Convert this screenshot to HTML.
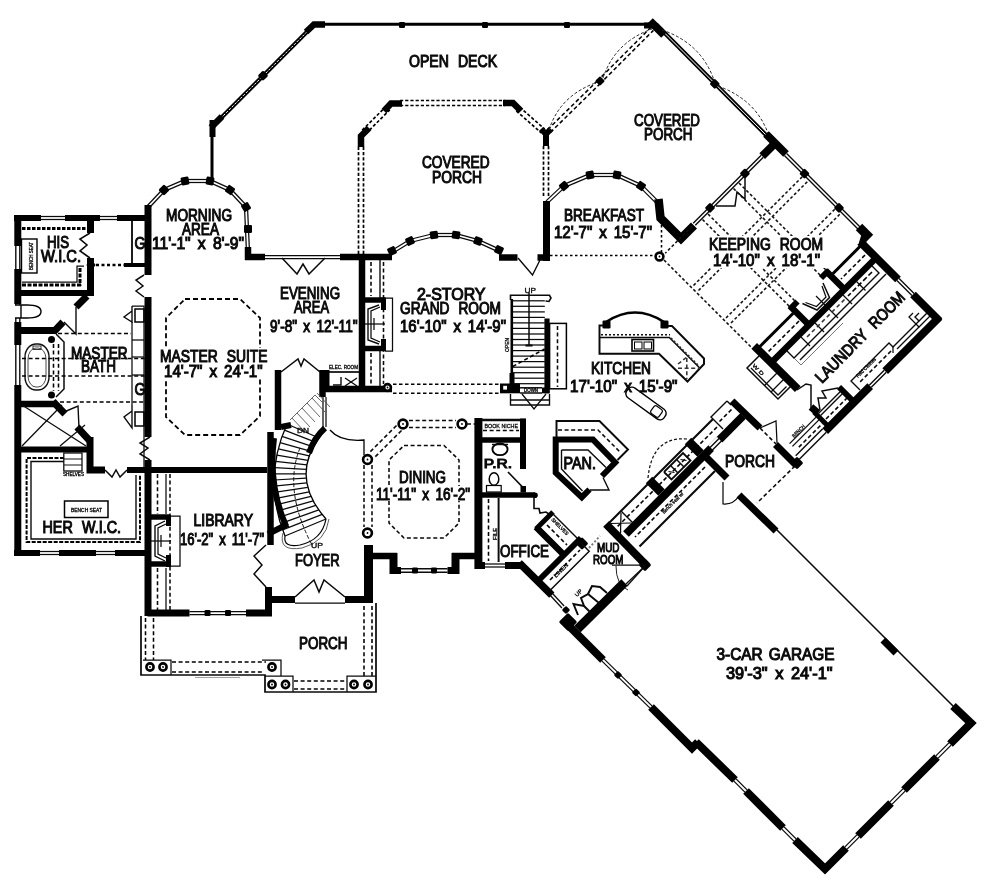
<!DOCTYPE html>
<html><head><meta charset="utf-8"><title>Floor Plan</title>
<style>
html,body{margin:0;padding:0;background:#fff;}
svg{display:block;filter:blur(0.45px)}
text{font-family:"Liberation Sans",sans-serif;fill:#0a0a0a;stroke:#0a0a0a}
</style></head><body>
<svg width="1000" height="894" viewBox="0 0 1000 894">
<rect width="1000" height="894" fill="#fff"/>
<polyline points="212.0,181.0 212.0,127.0 314.5,24.3 656.0,24.3 770.5,139.5" fill="none" stroke="#000" stroke-width="3" stroke-linejoin="miter"/>
<polyline points="212.0,127.0 314.5,24.3" fill="none" stroke="#000" stroke-width="4.2"/>
<polyline points="212.0,127.0 314.5,24.3" fill="none" stroke="#fff" stroke-width="1" stroke-dasharray="2.5,1.5"/>
<polyline points="656.0,24.3 770.5,139.5" fill="none" stroke="#000" stroke-width="4.2"/>
<polyline points="656.0,24.3 770.5,139.5" fill="none" stroke="#fff" stroke-width="1"/>
<rect x="259.2" y="72.0" width="7.5" height="7.5" rx="1.3" fill="#000" transform="rotate(45 263.0 75.8)"/>
<rect x="399.0" y="22.0" width="6" height="6" rx="1.3" fill="#000" transform="rotate(0 402.0 25.0)"/>
<rect x="482.0" y="22.0" width="6" height="6" rx="1.3" fill="#000" transform="rotate(0 485.0 25.0)"/>
<rect x="564.0" y="22.0" width="6" height="6" rx="1.3" fill="#000" transform="rotate(0 567.0 25.0)"/>
<rect x="711.0" y="80.0" width="7.5" height="7.5" rx="1.3" fill="#000" transform="rotate(45 714.7 83.8)"/>
<polyline points="212.5,120.0 212.5,137.0" fill="none" stroke="#000" stroke-width="6" stroke-linecap="butt" stroke-linejoin="miter"/>
<polyline points="211.0,127.5 222.0,116.5" fill="none" stroke="#000" stroke-width="6.5" stroke-linecap="butt" stroke-linejoin="miter"/>
<polyline points="306.0,32.0 314.0,24.5 325.0,24.5" fill="none" stroke="#000" stroke-width="6.5" stroke-linecap="butt" stroke-linejoin="miter"/>
<polyline points="644.0,25.5 656.0,25.5" fill="none" stroke="#000" stroke-width="6" stroke-linecap="butt" stroke-linejoin="miter"/>
<polyline points="650.0,21.0 664.0,35.0" fill="none" stroke="#000" stroke-width="8" stroke-linecap="butt" stroke-linejoin="miter"/>
<polyline points="358.5,254.0 358.5,146.0" fill="none" stroke="#000" stroke-width="1.7" stroke-dasharray="3.2,2"/>
<polyline points="363.5,254.0 363.5,146.0" fill="none" stroke="#000" stroke-width="1.7" stroke-dasharray="3.2,2"/>
<polyline points="362.2,130.2 386.2,106.2" fill="none" stroke="#000" stroke-width="1.7" stroke-dasharray="3.2,2"/>
<polyline points="365.8,133.8 389.8,109.8" fill="none" stroke="#000" stroke-width="1.7" stroke-dasharray="3.2,2"/>
<polyline points="400.0,100.5 505.0,100.5" fill="none" stroke="#000" stroke-width="1.7" stroke-dasharray="3.2,2"/>
<polyline points="400.0,105.5 505.0,105.5" fill="none" stroke="#000" stroke-width="1.7" stroke-dasharray="3.2,2"/>
<polyline points="519.7,107.1 544.7,129.1" fill="none" stroke="#000" stroke-width="1.7" stroke-dasharray="3.2,2"/>
<polyline points="516.3,110.9 541.3,132.9" fill="none" stroke="#000" stroke-width="1.7" stroke-dasharray="3.2,2"/>
<polyline points="548.5,146.0 548.5,198.0" fill="none" stroke="#000" stroke-width="1.7" stroke-dasharray="3.2,2"/>
<polyline points="543.5,146.0 543.5,198.0" fill="none" stroke="#000" stroke-width="1.7" stroke-dasharray="3.2,2"/>
<polyline points="361.0,147.0 361.0,136.0 369.0,128.0" fill="none" stroke="#000" stroke-width="6.5" stroke-linecap="butt" stroke-linejoin="miter"/>
<polyline points="384.0,111.0 391.0,103.5 402.0,103.5" fill="none" stroke="#000" stroke-width="6.5" stroke-linecap="butt" stroke-linejoin="miter"/>
<polyline points="503.0,103.0 513.0,103.0 521.0,111.0" fill="none" stroke="#000" stroke-width="6.5" stroke-linecap="butt" stroke-linejoin="miter"/>
<polyline points="546.0,146.0 546.0,134.0" fill="none" stroke="#000" stroke-width="6" stroke-linecap="butt" stroke-linejoin="miter"/>
<polyline points="541.0,129.0 546.0,134.0 551.0,129.0" fill="none" stroke="#000" stroke-width="6" stroke-linecap="butt" stroke-linejoin="miter"/>
<polyline points="547.6,129.6 596.6,81.6" fill="none" stroke="#000" stroke-width="1.55" stroke-dasharray="4,2.6"/>
<polyline points="550.4,132.4 599.4,84.4" fill="none" stroke="#000" stroke-width="1.55" stroke-dasharray="4,2.6"/>
<polyline points="601.6,76.6 650.6,27.6" fill="none" stroke="#000" stroke-width="1.55" stroke-dasharray="4,2.6"/>
<polyline points="604.4,79.4 653.4,30.4" fill="none" stroke="#000" stroke-width="1.55" stroke-dasharray="4,2.6"/>
<path d="M549,130 Q560,95 598,82" fill="none" stroke="#222" stroke-width="1" stroke-dasharray="3,2"/>
<path d="M603,78 Q615,42 652,29" fill="none" stroke="#222" stroke-width="1" stroke-dasharray="3,2"/>
<rect x="596.5" y="77.5" width="7" height="7" rx="1.3" fill="#000" transform="rotate(45 600.0 81.0)"/>
<path d="M662,30 Q701,43 714,80" fill="none" stroke="#222" stroke-width="1" stroke-dasharray="3,2"/>
<path d="M718,86 Q757,100 769,136" fill="none" stroke="#222" stroke-width="1" stroke-dasharray="3,2"/>
<text x="409.0" y="67.0" font-size="16" stroke-width="1.05" textLength="88.0" lengthAdjust="spacingAndGlyphs" word-spacing="6">OPEN DECK</text>
<text x="422.0" y="167.5" font-size="16" stroke-width="1.05" textLength="67.5" lengthAdjust="spacingAndGlyphs">COVERED</text>
<text x="432.0" y="182.5" font-size="16" stroke-width="1.05" textLength="50.0" lengthAdjust="spacingAndGlyphs">PORCH</text>
<text x="634.0" y="125.5" font-size="16" stroke-width="1.05" textLength="66.0" lengthAdjust="spacingAndGlyphs">COVERED</text>
<text x="644.0" y="140.0" font-size="16" stroke-width="1.05" textLength="48.5" lengthAdjust="spacingAndGlyphs">PORCH</text>
<polyline points="146.9,206.0 162.9,189.0" fill="none" stroke="#0a0a0a" stroke-width="1.25"/>
<polyline points="149.1,208.0 165.1,191.0" fill="none" stroke="#0a0a0a" stroke-width="1.25"/>
<polyline points="163.4,188.6 184.4,179.6" fill="none" stroke="#0a0a0a" stroke-width="1.25"/>
<polyline points="164.6,191.4 185.6,182.4" fill="none" stroke="#0a0a0a" stroke-width="1.25"/>
<polyline points="185.0,179.5 210.0,179.5" fill="none" stroke="#0a0a0a" stroke-width="1.25"/>
<polyline points="185.0,182.5 210.0,182.5" fill="none" stroke="#0a0a0a" stroke-width="1.25"/>
<polyline points="210.6,179.6 230.6,188.6" fill="none" stroke="#0a0a0a" stroke-width="1.25"/>
<polyline points="209.4,182.4 229.4,191.4" fill="none" stroke="#0a0a0a" stroke-width="1.25"/>
<polyline points="231.1,189.0 247.1,206.0" fill="none" stroke="#0a0a0a" stroke-width="1.25"/>
<polyline points="228.9,191.0 244.9,208.0" fill="none" stroke="#0a0a0a" stroke-width="1.25"/>
<polyline points="247.5,206.9 249.5,251.9" fill="none" stroke="#0a0a0a" stroke-width="1.25"/>
<polyline points="244.5,207.1 246.5,252.1" fill="none" stroke="#0a0a0a" stroke-width="1.25"/>
<rect x="160.0" y="186.0" width="8" height="8" rx="1.3" fill="#000" transform="rotate(-45 164.0 190.0)"/>
<rect x="181.0" y="177.0" width="8" height="8" rx="1.3" fill="#000" transform="rotate(-10 185.0 181.0)"/>
<rect x="206.0" y="177.0" width="8" height="8" rx="1.3" fill="#000" transform="rotate(10 210.0 181.0)"/>
<rect x="226.0" y="186.0" width="8" height="8" rx="1.3" fill="#000" transform="rotate(35 230.0 190.0)"/>
<rect x="242.0" y="203.0" width="8" height="8" rx="1.3" fill="#000" transform="rotate(60 246.0 207.0)"/>
<rect x="244.0" y="225.0" width="8" height="8" rx="1.3" fill="#000" transform="rotate(0 248.0 229.0)"/>
<text x="166.0" y="221.0" font-size="16" stroke-width="1.05" textLength="66.0" lengthAdjust="spacingAndGlyphs">MORNING</text>
<text x="182.0" y="234.5" font-size="16" stroke-width="1.05" textLength="37.0" lengthAdjust="spacingAndGlyphs">AREA</text>
<text x="152.0" y="249.0" font-size="16" stroke-width="1.05" textLength="92.0" lengthAdjust="spacingAndGlyphs" word-spacing="3">11'-1" x 8'-9"</text>
<polyline points="391.2,250.7 409.2,239.7" fill="none" stroke="#0a0a0a" stroke-width="1.25"/>
<polyline points="392.8,253.3 410.8,242.3" fill="none" stroke="#0a0a0a" stroke-width="1.25"/>
<polyline points="409.6,239.5 433.6,233.5" fill="none" stroke="#0a0a0a" stroke-width="1.25"/>
<polyline points="410.4,242.5 434.4,236.5" fill="none" stroke="#0a0a0a" stroke-width="1.25"/>
<polyline points="434.0,233.5 456.0,233.5" fill="none" stroke="#0a0a0a" stroke-width="1.25"/>
<polyline points="434.0,236.5 456.0,236.5" fill="none" stroke="#0a0a0a" stroke-width="1.25"/>
<polyline points="456.4,233.6 478.4,239.6" fill="none" stroke="#0a0a0a" stroke-width="1.25"/>
<polyline points="455.6,236.4 477.6,242.4" fill="none" stroke="#0a0a0a" stroke-width="1.25"/>
<polyline points="478.6,239.6 500.6,249.6" fill="none" stroke="#0a0a0a" stroke-width="1.25"/>
<polyline points="477.4,242.4 499.4,252.4" fill="none" stroke="#0a0a0a" stroke-width="1.25"/>
<rect x="388.0" y="247.0" width="8" height="8" rx="1.3" fill="#000" transform="rotate(-25 392.0 251.0)"/>
<rect x="406.0" y="237.0" width="8" height="8" rx="1.3" fill="#000" transform="rotate(-25 410.0 241.0)"/>
<rect x="430.0" y="231.0" width="8" height="8" rx="1.3" fill="#000" transform="rotate(-8 434.0 235.0)"/>
<rect x="452.0" y="231.0" width="8" height="8" rx="1.3" fill="#000" transform="rotate(8 456.0 235.0)"/>
<rect x="474.0" y="237.0" width="8" height="8" rx="1.3" fill="#000" transform="rotate(20 478.0 241.0)"/>
<rect x="495.0" y="246.0" width="8" height="8" rx="1.3" fill="#000" transform="rotate(25 499.0 250.0)"/>
<polyline points="546.0,200.9 563.0,184.9" fill="none" stroke="#0a0a0a" stroke-width="1.25"/>
<polyline points="548.0,203.1 565.0,187.1" fill="none" stroke="#0a0a0a" stroke-width="1.25"/>
<polyline points="563.4,184.6 589.4,173.6" fill="none" stroke="#0a0a0a" stroke-width="1.25"/>
<polyline points="564.6,187.4 590.6,176.4" fill="none" stroke="#0a0a0a" stroke-width="1.25"/>
<polyline points="590.0,173.5 617.0,173.5" fill="none" stroke="#0a0a0a" stroke-width="1.25"/>
<polyline points="590.0,176.5 617.0,176.5" fill="none" stroke="#0a0a0a" stroke-width="1.25"/>
<polyline points="617.6,173.6 641.6,184.6" fill="none" stroke="#0a0a0a" stroke-width="1.25"/>
<polyline points="616.4,176.4 640.4,187.4" fill="none" stroke="#0a0a0a" stroke-width="1.25"/>
<polyline points="642.1,184.9 659.1,201.9" fill="none" stroke="#0a0a0a" stroke-width="1.25"/>
<polyline points="639.9,187.1 656.9,204.1" fill="none" stroke="#0a0a0a" stroke-width="1.25"/>
<rect x="560.0" y="182.0" width="8" height="8" rx="1.3" fill="#000" transform="rotate(-40 564.0 186.0)"/>
<rect x="586.0" y="171.0" width="8" height="8" rx="1.3" fill="#000" transform="rotate(-10 590.0 175.0)"/>
<rect x="613.0" y="171.0" width="8" height="8" rx="1.3" fill="#000" transform="rotate(10 617.0 175.0)"/>
<rect x="637.0" y="182.0" width="8" height="8" rx="1.3" fill="#000" transform="rotate(35 641.0 186.0)"/>
<polyline points="17.8,218.0 17.8,553.0" fill="none" stroke="#000" stroke-width="7" stroke-linecap="butt" stroke-linejoin="miter"/>
<polyline points="14.0,218.0 41.0,218.0" fill="none" stroke="#000" stroke-width="6" stroke-linecap="butt" stroke-linejoin="miter"/>
<polyline points="41.0,216.5 65.0,216.5" fill="none" stroke="#0a0a0a" stroke-width="1.25"/>
<polyline points="41.0,219.5 65.0,219.5" fill="none" stroke="#0a0a0a" stroke-width="1.25"/>
<polyline points="65.0,218.0 100.0,218.0" fill="none" stroke="#000" stroke-width="6" stroke-linecap="butt" stroke-linejoin="miter"/>
<polyline points="100.0,216.5 117.0,216.5" fill="none" stroke="#0a0a0a" stroke-width="1.25"/>
<polyline points="100.0,219.5 117.0,219.5" fill="none" stroke="#0a0a0a" stroke-width="1.25"/>
<polyline points="117.0,218.0 151.0,218.0" fill="none" stroke="#000" stroke-width="6" stroke-linecap="butt" stroke-linejoin="miter"/>
<rect x="13.0" y="246.0" width="9.0" height="23.0" fill="#fff" stroke="none" stroke-width="1"/>
<polyline points="19.8,246.0 19.8,269.0" fill="none" stroke="#0a0a0a" stroke-width="1.38"/>
<polyline points="15.8,246.0 15.8,269.0" fill="none" stroke="#0a0a0a" stroke-width="1.38"/>
<rect x="13.0" y="304.0" width="9.0" height="18.0" fill="#fff" stroke="none" stroke-width="1"/>
<polyline points="19.8,304.0 19.8,322.0" fill="none" stroke="#0a0a0a" stroke-width="1.38"/>
<polyline points="15.8,304.0 15.8,322.0" fill="none" stroke="#0a0a0a" stroke-width="1.38"/>
<rect x="13.0" y="345.0" width="9.0" height="40.0" fill="#fff" stroke="none" stroke-width="1"/>
<polyline points="19.8,345.0 19.8,385.0" fill="none" stroke="#0a0a0a" stroke-width="1.38"/>
<polyline points="15.8,345.0 15.8,385.0" fill="none" stroke="#0a0a0a" stroke-width="1.38"/>
<polyline points="14.0,553.0 40.0,553.0" fill="none" stroke="#000" stroke-width="6" stroke-linecap="butt" stroke-linejoin="miter"/>
<polyline points="40.0,551.5 59.0,551.5" fill="none" stroke="#0a0a0a" stroke-width="1.25"/>
<polyline points="40.0,554.5 59.0,554.5" fill="none" stroke="#0a0a0a" stroke-width="1.25"/>
<polyline points="59.0,553.0 96.0,553.0" fill="none" stroke="#000" stroke-width="6" stroke-linecap="butt" stroke-linejoin="miter"/>
<polyline points="96.0,551.5 115.0,551.5" fill="none" stroke="#0a0a0a" stroke-width="1.25"/>
<polyline points="96.0,554.5 115.0,554.5" fill="none" stroke="#0a0a0a" stroke-width="1.25"/>
<polyline points="115.0,553.0 148.0,553.0" fill="none" stroke="#000" stroke-width="6" stroke-linecap="butt" stroke-linejoin="miter"/>
<polyline points="148.0,205.0 148.0,275.0" fill="none" stroke="#000" stroke-width="7" stroke-linecap="butt" stroke-linejoin="miter"/>
<polyline points="148.0,297.0 148.0,437.0" fill="none" stroke="#000" stroke-width="7" stroke-linecap="butt" stroke-linejoin="miter"/>
<polyline points="148.0,460.0 148.0,616.0" fill="none" stroke="#000" stroke-width="7" stroke-linecap="butt" stroke-linejoin="miter"/>
<polyline points="90.5,215.0 90.5,233.0" fill="none" stroke="#000" stroke-width="7" stroke-linecap="butt" stroke-linejoin="miter"/>
<polyline points="90.5,258.0 90.5,296.0" fill="none" stroke="#000" stroke-width="7" stroke-linecap="butt" stroke-linejoin="miter"/>
<polyline points="20.0,293.0 94.0,293.0" fill="none" stroke="#000" stroke-width="6" stroke-linecap="butt" stroke-linejoin="miter"/>
<polyline points="90.0,233.0 80.0,239.0 87.0,245.0 80.0,251.0 90.0,258.0" fill="none" stroke="#0a0a0a" stroke-width="1.61"/>
<polyline points="22.0,228.5 86.0,228.5" fill="none" stroke="#000" stroke-width="3.2" stroke-dasharray="3.5,1.5"/>
<polyline points="22.0,285.0 82.0,285.0" fill="none" stroke="#000" stroke-width="3" stroke-dasharray="4,1.5"/>
<polyline points="80.0,268.0 80.0,286.0" fill="none" stroke="#000" stroke-width="3" stroke-dasharray="4,1.5"/>
<polyline points="22.0,282.0 77.0,282.0 77.0,266.0 84.0,266.0" fill="none" stroke="#0a0a0a" stroke-width="1.25"/>
<rect x="21.5" y="239.0" width="15.5" height="34.0" fill="none" stroke="#000" stroke-width="1.4"/>
<text x="0.0" y="0.0" font-size="5" stroke-width="0.3" textLength="28.0" lengthAdjust="spacingAndGlyphs" transform="translate(33,270) rotate(-90)">BENCH SEAT</text>
<polyline points="132.0,221.0 132.0,265.0" fill="none" stroke="#0a0a0a" stroke-width="1.84"/>
<polyline points="124.0,265.0 145.0,265.0" fill="none" stroke="#000" stroke-width="4" stroke-linecap="butt" stroke-linejoin="miter"/>
<polyline points="96.0,265.0 124.0,265.0" fill="none" stroke="#000" stroke-width="2.6" stroke-dasharray="3,2.5"/>
<rect x="87.5" y="261.5" width="7" height="7" rx="1.3" fill="#000" transform="rotate(45 91.0 265.0)"/>
<text x="134.5" y="249.0" font-size="16" stroke-width="1.05" textLength="11.0" lengthAdjust="spacingAndGlyphs">G</text>
<polyline points="20.0,330.5 55.0,330.5 63.0,322.0" fill="none" stroke="#000" stroke-width="7" stroke-linecap="butt" stroke-linejoin="miter"/>
<polyline points="87.0,296.0 76.0,307.0" fill="none" stroke="#000" stroke-width="7" stroke-linecap="butt" stroke-linejoin="miter"/>
<polyline points="76.0,307.0 76.0,334.0 64.0,322.0" fill="none" stroke="#0a0a0a" stroke-width="1.38"/>
<path d="M15,318 h6 v-13 h-6 M21,305 h6 q14,0 14,6.5 q0,6.5 -14,6.5 h-6" fill="#fff" stroke="#000" stroke-width="1.4" />
<rect x="25" y="344" width="24" height="46" rx="11" ry="13" fill="none" stroke="#111" stroke-width="1.4"/>
<rect x="28" y="348" width="18" height="39" rx="8" ry="11" fill="none" stroke="#333" stroke-width="0.9"/>
<rect x="33.0" y="346.0" width="8.0" height="3.5" fill="none" stroke="#222" stroke-width="0.9"/>
<polyline points="56.0,334.0 64.0,342.0 64.0,389.0 56.0,397.0" fill="none" stroke="#0a0a0a" stroke-width="1.49"/>
<circle cx="51.5" cy="339.5" r="3.5" fill="#000"/><circle cx="51.5" cy="395" r="3.5" fill="#000"/>
<polyline points="58.0,333.5 131.0,333.5" fill="none" stroke="#000" stroke-width="1.55" stroke-dasharray="4,2.6"/>
<polyline points="60.0,402.0 147.0,402.0" fill="none" stroke="#000" stroke-width="1.55" stroke-dasharray="4,2.6"/>
<polyline points="22.0,358.5 147.0,358.5" fill="none" stroke="#000" stroke-width="1.55" stroke-dasharray="4,2.6"/>
<polyline points="22.0,376.0 147.0,376.0" fill="none" stroke="#000" stroke-width="1.55" stroke-dasharray="4,2.6"/>
<polyline points="53.5,344.0 53.5,391.0" fill="none" stroke="#000" stroke-width="1.55" stroke-dasharray="4,2.6"/>
<polyline points="58.5,344.0 58.5,391.0" fill="none" stroke="#000" stroke-width="1.55" stroke-dasharray="4,2.6"/>
<polyline points="132.0,306.0 144.0,306.0 144.0,470.0" fill="none" stroke="#0a0a0a" stroke-width="1.25"/>
<polyline points="132.0,306.0 132.0,322.0 124.0,317.0 132.0,311.0" fill="none" stroke="#0a0a0a" stroke-width="1.38"/>
<rect x="135.0" y="309.0" width="9.0" height="13.0" fill="none" stroke="#000" stroke-width="1.5"/>
<polyline points="132.0,322.0 132.0,405.0" fill="none" stroke="#0a0a0a" stroke-width="1.25"/>
<polyline points="132.0,340.0 144.0,340.0" fill="none" stroke="#0a0a0a" stroke-width="1.25"/>
<polyline points="132.0,357.0 144.0,357.0" fill="none" stroke="#0a0a0a" stroke-width="1.25"/>
<polyline points="132.0,375.0 144.0,375.0" fill="none" stroke="#0a0a0a" stroke-width="1.25"/>
<text x="134.5" y="395.0" font-size="16" stroke-width="1.05" textLength="11.0" lengthAdjust="spacingAndGlyphs">G</text>
<rect x="135.0" y="412.0" width="9.0" height="14.0" fill="none" stroke="#000" stroke-width="1.5"/>
<polyline points="132.0,405.0 132.0,428.0 124.0,417.0 132.0,411.0" fill="none" stroke="#0a0a0a" stroke-width="1.38"/>
<polyline points="20.0,404.0 56.0,404.0" fill="none" stroke="#000" stroke-width="6.5" stroke-linecap="butt" stroke-linejoin="miter"/>
<polyline points="53.0,401.5 65.0,414.0" fill="none" stroke="#000" stroke-width="7" stroke-linecap="butt" stroke-linejoin="miter"/>
<polyline points="77.0,427.0 90.0,441.0" fill="none" stroke="#000" stroke-width="7" stroke-linecap="butt" stroke-linejoin="miter"/>
<polyline points="64.0,412.0 78.0,406.0 79.0,428.0" fill="none" stroke="#0a0a0a" stroke-width="1.38"/>
<polyline points="20.0,449.5 90.0,449.5" fill="none" stroke="#000" stroke-width="6" stroke-linecap="butt" stroke-linejoin="miter"/>
<polyline points="22.0,405.0 86.0,446.0" fill="none" stroke="#0a0a0a" stroke-width="1.25"/>
<polyline points="22.0,446.0 62.0,405.0" fill="none" stroke="#0a0a0a" stroke-width="1.25"/>
<polyline points="60.0,446.0 85.0,425.0" fill="none" stroke="#0a0a0a" stroke-width="1.25"/>
<polyline points="90.0,437.0 90.0,470.0 105.0,470.0" fill="none" stroke="#000" stroke-width="7" stroke-linecap="butt" stroke-linejoin="miter"/>
<polyline points="127.0,470.0 267.0,470.0" fill="none" stroke="#000" stroke-width="6" stroke-linecap="butt" stroke-linejoin="miter"/>
<polyline points="105.0,470.0 112.0,477.0 116.0,470.0 120.0,477.0 127.0,470.0" fill="none" stroke="#0a0a0a" stroke-width="1.49"/>
<polyline points="150.0,437.0 140.0,443.0 148.0,448.0 140.0,454.0 150.0,460.0" fill="none" stroke="#0a0a0a" stroke-width="1.49"/>
<polyline points="144.0,275.0 136.0,280.0 143.0,286.0 136.0,291.0 144.0,297.0" fill="none" stroke="#0a0a0a" stroke-width="1.49"/>
<polyline points="64.0,458.0 26.6,458.0 26.6,542.0 140.0,542.0 140.0,475.0" fill="none" stroke="#000" stroke-width="2" stroke-dasharray="4,1.5"/>
<polyline points="64.0,461.5 31.0,461.5 31.0,539.0 136.0,539.0 136.0,475.0" fill="none" stroke="#0a0a0a" stroke-width="1.38"/>
<rect x="64.5" y="501.0" width="43.5" height="16.5" fill="none" stroke="#000" stroke-width="1.5"/>
<text x="71.0" y="512.0" font-size="5" stroke-width="0.3" textLength="31.0" lengthAdjust="spacingAndGlyphs">BENCH SEAT</text>
<rect x="63.8" y="453.0" width="18.2" height="18.0" fill="none" stroke="#111" stroke-width="1.3"/>
<polyline points="64.0,459.0 82.0,459.0" fill="none" stroke="#111" stroke-width="1.00"/>
<polyline points="64.0,465.0 82.0,465.0" fill="none" stroke="#111" stroke-width="1.00"/>
<text x="63.0" y="476.0" font-size="4.5" stroke-width="0.3" textLength="21.0" lengthAdjust="spacingAndGlyphs">SHELVES</text>
<text x="47.0" y="247.5" font-size="16" stroke-width="1.05" textLength="22.0" lengthAdjust="spacingAndGlyphs">HIS</text>
<text x="41.0" y="261.5" font-size="16" stroke-width="1.05" textLength="40.0" lengthAdjust="spacingAndGlyphs">W.I.C.</text>
<text x="71.0" y="359.0" font-size="16" stroke-width="1.05" textLength="56.5" lengthAdjust="spacingAndGlyphs">MASTER</text>
<text x="81.0" y="371.5" font-size="16" stroke-width="1.05" textLength="35.0" lengthAdjust="spacingAndGlyphs">BATH</text>
<text x="42.5" y="533.0" font-size="16" stroke-width="1.05" textLength="78.5" lengthAdjust="spacingAndGlyphs" word-spacing="6">HER W.I.C.</text>
<polyline points="185.0,299.0 240.0,299.0 260.0,318.0 260.0,416.0 240.0,435.0 185.0,435.0 166.0,417.0 166.0,318.0 185.0,299.0" fill="none" stroke="#000" stroke-width="1.8" stroke-dasharray="5,3"/>
<rect x="157.0" y="348.0" width="113.0" height="31.0" fill="#fff" stroke="none" stroke-width="1"/>
<text x="160.0" y="361.5" font-size="16" stroke-width="1.05" textLength="107.5" lengthAdjust="spacingAndGlyphs" word-spacing="6">MASTER SUITE</text>
<text x="164.0" y="376.5" font-size="16" stroke-width="1.05" textLength="98.5" lengthAdjust="spacingAndGlyphs" word-spacing="3">14'-7" x 24'-1"</text>
<polyline points="245.0,257.0 265.0,257.0" fill="none" stroke="#000" stroke-width="6.5" stroke-linecap="butt" stroke-linejoin="miter"/>
<polyline points="248.0,247.0 248.0,260.0" fill="none" stroke="#000" stroke-width="6.5" stroke-linecap="butt" stroke-linejoin="miter"/>
<polyline points="265.0,255.5 340.0,255.5" fill="none" stroke="#0a0a0a" stroke-width="1.25"/>
<polyline points="265.0,258.5 340.0,258.5" fill="none" stroke="#0a0a0a" stroke-width="1.25"/>
<polyline points="340.0,257.0 392.0,257.0" fill="none" stroke="#000" stroke-width="6.5" stroke-linecap="butt" stroke-linejoin="miter"/>
<polyline points="282.0,258.0 297.0,274.0 303.0,264.0 309.0,274.0 325.0,258.0" fill="none" stroke="#0a0a0a" stroke-width="1.49"/>
<polyline points="362.0,254.0 362.0,392.0" fill="none" stroke="#000" stroke-width="6.5" stroke-linecap="butt" stroke-linejoin="miter"/>
<polyline points="326.0,389.0 392.0,389.0" fill="none" stroke="#000" stroke-width="6.5" stroke-linecap="butt" stroke-linejoin="miter"/>
<polyline points="380.0,260.0 380.0,298.0" fill="none" stroke="#0a0a0a" stroke-width="1.38"/>
<polyline points="380.0,351.0 380.0,386.0" fill="none" stroke="#0a0a0a" stroke-width="1.38"/>
<polyline points="371.0,262.0 371.0,296.0" fill="none" stroke="#000" stroke-width="1.55" stroke-dasharray="4,2.6"/>
<polyline points="371.0,353.0 371.0,384.0" fill="none" stroke="#000" stroke-width="1.55" stroke-dasharray="4,2.6"/>
<polyline points="383.5,262.0 383.5,384.0" fill="none" stroke="#0a0a0a" stroke-width="1.55" stroke-dasharray="4,2.6"/>
<polyline points="365.0,300.0 385.0,300.0" fill="none" stroke="#000" stroke-width="5.5" stroke-linecap="butt" stroke-linejoin="miter"/>
<polyline points="365.0,348.5 385.0,348.5" fill="none" stroke="#000" stroke-width="5.5" stroke-linecap="butt" stroke-linejoin="miter"/>
<rect x="381.0" y="297.5" width="5.0" height="12.5" fill="#000" stroke="none" stroke-width="1"/>
<rect x="381.0" y="339.0" width="5.0" height="12.0" fill="#000" stroke="none" stroke-width="1"/>
<polyline points="385.0,298.0 392.5,298.0 392.5,351.0 385.0,351.0" fill="none" stroke="#0a0a0a" stroke-width="1.25"/>
<polyline points="379.0,305.0 368.0,309.0 368.0,340.0 379.0,344.0" fill="none" stroke="#0a0a0a" stroke-width="1.38"/>
<polyline points="380.0,307.0 371.0,311.0 371.0,338.0 380.0,342.0" fill="none" stroke="#0a0a0a" stroke-width="1.25"/>
<polyline points="365.0,324.0 385.0,324.0" fill="none" stroke="#0a0a0a" stroke-width="1.25"/>
<polyline points="374.0,318.0 374.0,330.0" fill="none" stroke="#0a0a0a" stroke-width="1.25"/>
<circle cx="387.5" cy="387.5" r="3.4" fill="#fff" stroke="#000" stroke-width="2.6"/><circle cx="387.5" cy="387.5" r="0.9" fill="#000"/>
<polyline points="393.0,384.2 500.0,384.2" fill="none" stroke="#000" stroke-width="1.55" stroke-dasharray="3.5,2.5"/>
<polyline points="393.0,393.2 500.0,393.2" fill="none" stroke="#000" stroke-width="1.55" stroke-dasharray="3.5,2.5"/>
<polyline points="326.5,370.0 326.5,392.0" fill="none" stroke="#000" stroke-width="6" stroke-linecap="butt" stroke-linejoin="miter"/>
<polyline points="329.0,372.0 359.0,372.0" fill="none" stroke="#0a0a0a" stroke-width="1.72"/>
<polyline points="345.0,378.0 357.0,386.0" fill="none" stroke="#0a0a0a" stroke-width="1.25"/>
<polyline points="345.0,386.0 357.0,378.0" fill="none" stroke="#0a0a0a" stroke-width="1.25"/>
<polyline points="333.0,385.0 341.0,385.0 341.0,377.0" fill="none" stroke="#0a0a0a" stroke-width="1.38"/>
<text x="329.0" y="369.0" font-size="5" stroke-width="0.3" textLength="29.0" lengthAdjust="spacingAndGlyphs">ELEC. ROOM</text>
<polyline points="278.0,370.0 278.0,430.0" fill="none" stroke="#000" stroke-width="6.5" stroke-linecap="butt" stroke-linejoin="miter"/>
<polyline points="322.5,370.0 322.5,397.0" fill="none" stroke="#000" stroke-width="6.5" stroke-linecap="butt" stroke-linejoin="miter"/>
<polyline points="281.0,372.0 298.0,359.0 301.0,366.0 304.0,359.0 320.0,372.0" fill="none" stroke="#0a0a0a" stroke-width="1.49"/>
<polyline points="326.0,397.0 326.0,427.0" fill="none" stroke="#0a0a0a" stroke-width="1.25"/>
<polyline points="323.0,397.0 323.0,427.0" fill="none" stroke="#0a0a0a" stroke-width="1.25"/>
<text x="280.0" y="299.0" font-size="16" stroke-width="1.05" textLength="60.0" lengthAdjust="spacingAndGlyphs">EVENING</text>
<text x="294.0" y="313.0" font-size="16" stroke-width="1.05" textLength="35.0" lengthAdjust="spacingAndGlyphs">AREA</text>
<text x="270.0" y="331.5" font-size="16" stroke-width="1.05" textLength="87.5" lengthAdjust="spacingAndGlyphs" word-spacing="3">9'-8" x 12'-11"</text>
<text x="417.0" y="299.5" font-size="16" stroke-width="1.05" textLength="68.5" lengthAdjust="spacingAndGlyphs">2-STORY</text>
<text x="400.0" y="314.0" font-size="16" stroke-width="1.05" textLength="101.0" lengthAdjust="spacingAndGlyphs" word-spacing="6">GRAND ROOM</text>
<text x="400.0" y="331.5" font-size="16" stroke-width="1.05" textLength="106.0" lengthAdjust="spacingAndGlyphs" word-spacing="3">16'-10" x 14'-9"</text>
<polyline points="499.0,257.5 517.5,257.5" fill="none" stroke="#000" stroke-width="6.5" stroke-linecap="butt" stroke-linejoin="miter"/>
<polyline points="537.5,257.5 550.0,257.5" fill="none" stroke="#000" stroke-width="6.5" stroke-linecap="butt" stroke-linejoin="miter"/>
<polyline points="518.0,258.0 532.5,275.0 540.0,260.0" fill="none" stroke="#0a0a0a" stroke-width="1.38"/>
<polyline points="546.5,201.0 546.5,261.0" fill="none" stroke="#000" stroke-width="7" stroke-linecap="butt" stroke-linejoin="miter"/>
<polyline points="658.5,199.0 660.5,218.0 681.0,238.5 694.0,225.5" fill="none" stroke="#000" stroke-width="8.5" stroke-linecap="butt" stroke-linejoin="miter"/>
<polyline points="550.0,255.5 655.0,255.5" fill="none" stroke="#000" stroke-width="1.55" stroke-dasharray="2.5,2.5"/>
<polyline points="661.5,220.0 661.5,252.0" fill="none" stroke="#000" stroke-width="1.55" stroke-dasharray="2.5,2.5"/>
<circle cx="659.5" cy="256.5" r="3.9" fill="#fff" stroke="#000" stroke-width="2.6"/><circle cx="659.5" cy="256.5" r="0.9" fill="#000"/>
<text x="564.0" y="220.5" font-size="16" stroke-width="1.05" textLength="80.0" lengthAdjust="spacingAndGlyphs">BREAKFAST</text>
<text x="554.0" y="238.0" font-size="16" stroke-width="1.05" textLength="98.0" lengthAdjust="spacingAndGlyphs" word-spacing="3">12'-7" x 15'-7"</text>
<polyline points="547.0,318.5 547.0,393.3" fill="none" stroke="#000" stroke-width="5.2" stroke-linecap="butt" stroke-linejoin="miter"/>
<rect x="500.0" y="383.5" width="20.0" height="9.8" fill="#000" stroke="none" stroke-width="1"/>
<rect x="542.0" y="387.5" width="7.6" height="5.8" fill="#000" stroke="none" stroke-width="1"/>
<rect x="503.2" y="385.8" width="3.8" height="3.8" fill="#fff" stroke="none" stroke-width="1"/>
<polyline points="520.0,387.8 542.0,387.8" fill="none" stroke="#0a0a0a" stroke-width="1.49"/>
<polyline points="520.0,393.0 542.0,393.0" fill="none" stroke="#0a0a0a" stroke-width="1.49"/>
<text x="524.0" y="392.3" font-size="4.5" stroke-width="0.3" textLength="14.0" lengthAdjust="spacingAndGlyphs">DOWN</text>
<polyline points="511.8,299.0 511.8,393.0" fill="none" stroke="#000" stroke-width="2.6" stroke-linecap="butt" stroke-linejoin="miter"/>
<polyline points="512.0,373.0 512.0,393.0" fill="none" stroke="#000" stroke-width="5" stroke-linecap="butt" stroke-linejoin="miter"/>
<polyline points="510.5,300.0 510.5,295.3 549.5,295.3 551.0,298.0 549.0,301.5 545.5,301.0" fill="none" stroke="#0a0a0a" stroke-width="1.61"/>
<polyline points="513.0,300.8 544.8,300.8" fill="none" stroke="#0a0a0a" stroke-width="1.25"/>
<polyline points="513.0,306.3 544.8,306.3" fill="none" stroke="#0a0a0a" stroke-width="1.25"/>
<polyline points="513.0,311.9 544.8,311.9" fill="none" stroke="#0a0a0a" stroke-width="1.25"/>
<polyline points="513.0,317.4 544.8,317.4" fill="none" stroke="#0a0a0a" stroke-width="1.25"/>
<polyline points="513.0,322.9 544.8,322.9" fill="none" stroke="#0a0a0a" stroke-width="1.25"/>
<polyline points="513.0,328.4 544.8,328.4" fill="none" stroke="#0a0a0a" stroke-width="1.25"/>
<polyline points="513.0,334.0 544.8,334.0" fill="none" stroke="#0a0a0a" stroke-width="1.25"/>
<polyline points="513.0,339.5 544.8,339.5" fill="none" stroke="#0a0a0a" stroke-width="1.25"/>
<polyline points="513.0,345.0 544.8,345.0" fill="none" stroke="#0a0a0a" stroke-width="1.25"/>
<polyline points="513.0,350.6 544.8,350.6" fill="none" stroke="#0a0a0a" stroke-width="1.25"/>
<polyline points="513.0,356.1 544.8,356.1" fill="none" stroke="#0a0a0a" stroke-width="1.25"/>
<polyline points="513.0,361.6 544.8,361.6" fill="none" stroke="#0a0a0a" stroke-width="1.25"/>
<polyline points="513.0,367.2 544.8,367.2" fill="none" stroke="#0a0a0a" stroke-width="1.25"/>
<polyline points="513.0,372.7 544.8,372.7" fill="none" stroke="#0a0a0a" stroke-width="1.25"/>
<polyline points="513.0,378.2 544.8,378.2" fill="none" stroke="#0a0a0a" stroke-width="1.25"/>
<polyline points="513.0,383.7 544.8,383.7" fill="none" stroke="#0a0a0a" stroke-width="1.25"/>
<polyline points="529.0,292.5 529.0,345.0" fill="none" stroke="#0a0a0a" stroke-width="1.49"/>
<polyline points="525.5,345.5 532.5,345.5" fill="none" stroke="#0a0a0a" stroke-width="2.07"/>
<polyline points="512.7,366.5 544.6,349.0" fill="none" stroke="#000" stroke-width="1.55" stroke-dasharray="4,2.6"/>
<rect x="549.6" y="323.4" width="16.8" height="65.4" fill="none" stroke="#000" stroke-width="1.5"/>
<polyline points="557.5,326.0 557.5,387.0" fill="none" stroke="#0a0a0a" stroke-width="1.55" stroke-dasharray="4,2.6"/>
<text x="524.5" y="292.6" font-size="6.5" stroke-width="0.3" textLength="11.5" lengthAdjust="spacingAndGlyphs">UP</text>
<polyline points="510.5,394.0 510.5,405.0 549.5,405.0 549.5,394.0" fill="none" stroke="#0a0a0a" stroke-width="1.38"/>
<polyline points="510.5,400.0 549.5,400.0" fill="none" stroke="#0a0a0a" stroke-width="1.26"/>
<polyline points="522.0,394.0 534.0,409.0 546.0,394.0" fill="none" stroke="#0a0a0a" stroke-width="1.25"/>
<text x="0.0" y="0.0" font-size="4.5" stroke-width="0.3" textLength="14.0" lengthAdjust="spacingAndGlyphs" transform="translate(508.5,352) rotate(-90)">OPEN</text>
<path d="M606,322 Q635,303 664,322" fill="none" stroke="#000" stroke-width="2.6" />
<rect x="602.5" y="320.5" width="8" height="8" rx="1.3" fill="#000" transform="rotate(0 606.5 324.5)"/>
<rect x="660.5" y="320.5" width="8" height="8" rx="1.3" fill="#000" transform="rotate(0 664.5 324.5)"/>
<polyline points="603.0,325.5 599.5,325.5 599.5,353.8 659.0,353.8 687.5,381.5 704.0,364.0 704.0,358.5 672.0,326.0 668.0,326.0" fill="none" stroke="#0a0a0a" stroke-width="1.95"/>
<polyline points="599.5,337.5 669.3,337.5 700.0,368.3" fill="none" stroke="#0a0a0a" stroke-width="1.49"/>
<polyline points="601.0,334.7 670.0,334.7" fill="none" stroke="#111" stroke-width="1.6" stroke-dasharray="2,2"/>
<polyline points="671.0,338.0 699.0,366.0" fill="none" stroke="#333" stroke-width="1.55" stroke-dasharray="2,2"/>
<rect x="632.0" y="339.5" width="21.5" height="11.5" fill="none" stroke="#000" stroke-width="1.6"/>
<rect x="634.5" y="342.0" width="7.5" height="7.0" fill="none" stroke="#000" stroke-width="1"/>
<rect x="644.0" y="342.0" width="7.5" height="7.0" fill="none" stroke="#000" stroke-width="1"/>
<polyline points="678.0,368.3 700.0,368.3" fill="none" stroke="#333" stroke-width="1.55" stroke-dasharray="4,2.6"/>
<polyline points="686.8,358.0 686.8,379.0" fill="none" stroke="#333" stroke-width="1.55" stroke-dasharray="4,2.6"/>
<polyline points="678.0,364.0 687.0,357.0" fill="none" stroke="#333" stroke-width="1.55" stroke-dasharray="4,2.6"/>
<rect x="-23" y="-6" width="46" height="12" rx="5" fill="#fff" stroke="#000" stroke-width="1.4" transform="translate(646,403.5) rotate(36)"/>
<rect x="-5" y="-4.5" width="10" height="9" rx="2" fill="none" stroke="#000" stroke-width="1.2" transform="translate(656.5,411.5) rotate(36)"/>
<text x="591.0" y="374.0" font-size="16" stroke-width="1.05" textLength="60.0" lengthAdjust="spacingAndGlyphs">KITCHEN</text>
<text x="570.0" y="391.5" font-size="16" stroke-width="1.05" textLength="107.5" lengthAdjust="spacingAndGlyphs" word-spacing="3">17'-10" x 15'-9"</text>
<polyline points="589.5,489.5 581.8,497.2 555.7,472.7 555.7,439.6 593.0,439.6 615.2,462.5 602.0,476.0" fill="none" stroke="#000" stroke-width="6" stroke-linecap="butt" stroke-linejoin="miter"/>
<polyline points="556.5,437.0 556.5,421.0 599.5,421.0 628.0,449.5 617.5,460.0" fill="none" stroke="#0a0a0a" stroke-width="1.95"/>
<polyline points="558.0,430.0 598.0,430.0 621.0,453.0" fill="none" stroke="#0a0a0a" stroke-width="1.55" stroke-dasharray="4,2.6"/>
<polyline points="561.5,450.0 588.0,450.0 606.0,467.5" fill="none" stroke="#0a0a0a" stroke-width="1.38"/>
<polyline points="561.5,450.0 561.5,469.0 582.5,491.0" fill="none" stroke="#0a0a0a" stroke-width="1.38"/>
<polyline points="603.0,477.5 609.0,490.0 590.0,490.0" fill="none" stroke="#0a0a0a" stroke-width="1.38"/>
<text x="563.5" y="469.3" font-size="16" stroke-width="1.05" textLength="32.5" lengthAdjust="spacingAndGlyphs">PAN.</text>
<polyline points="478.4,418.0 478.4,569.0" fill="none" stroke="#000" stroke-width="8" stroke-linecap="butt" stroke-linejoin="miter"/>
<polyline points="523.0,418.4 523.0,469.0" fill="none" stroke="#000" stroke-width="6" stroke-linecap="butt" stroke-linejoin="miter"/>
<polyline points="481.0,420.0 520.0,420.0" fill="none" stroke="#0a0a0a" stroke-width="2.30"/>
<polyline points="483.0,430.5 519.0,430.5" fill="none" stroke="#0a0a0a" stroke-width="1.55" stroke-dasharray="4,2.6"/>
<polyline points="481.0,440.0 521.0,440.0" fill="none" stroke="#000" stroke-width="5.4" stroke-linecap="butt" stroke-linejoin="miter"/>
<text x="484.5" y="427.8" font-size="6" stroke-width="0.3" textLength="33.5" lengthAdjust="spacingAndGlyphs">BOOK NICHE</text>
<polyline points="475.0,495.0 535.0,495.0" fill="none" stroke="#000" stroke-width="5.6" stroke-linecap="butt" stroke-linejoin="miter"/>
<circle cx="535" cy="495.3" r="2.8" fill="#000"/>
<polyline points="508.0,472.0 522.5,487.0" fill="none" stroke="#0a0a0a" stroke-width="1.72"/>
<rect x="520.5" y="486.0" width="5.5" height="6.5" fill="#000" stroke="none" stroke-width="1"/>
<ellipse cx="500" cy="449.3" rx="7.6" ry="5.8" fill="none" stroke="#000" stroke-width="1.9"/>
<polyline points="492.0,444.5 508.0,444.5" fill="none" stroke="#0a0a0a" stroke-width="1.49"/>
<ellipse cx="494" cy="479" rx="4.8" ry="6.2" fill="#fff" stroke="#000" stroke-width="1.5"/>
<rect x="486.5" y="485.5" width="14.7" height="6.5" fill="#fff" stroke="#000" stroke-width="1.2"/>
<polyline points="534.0,498.0 534.0,508.5 539.0,508.5 540.0,513.0 546.0,512.0 552.0,516.0" fill="none" stroke="#0a0a0a" stroke-width="1.61"/>
<text x="483.8" y="468.3" font-size="13.5" stroke-width="1.05" textLength="28.2" lengthAdjust="spacingAndGlyphs">P.R.</text>
<text x="500.0" y="556.5" font-size="16" stroke-width="1.05" textLength="49.0" lengthAdjust="spacingAndGlyphs">OFFICE</text>
<polyline points="488.5,499.0 488.5,561.0" fill="none" stroke="#000" stroke-width="1.55" stroke-dasharray="4,2.6"/>
<polyline points="498.6,498.0 498.6,562.0" fill="none" stroke="#0a0a0a" stroke-width="1.95"/>
<text x="0.0" y="0.0" font-size="5" stroke-width="0.3" textLength="12.0" lengthAdjust="spacingAndGlyphs" transform="translate(497,540) rotate(-90)">FILE</text>
<polyline points="475.0,565.5 485.0,565.5" fill="none" stroke="#000" stroke-width="7" stroke-linecap="butt" stroke-linejoin="miter"/>
<polyline points="485.0,564.0 505.0,564.0" fill="none" stroke="#0a0a0a" stroke-width="1.25"/>
<polyline points="485.0,567.0 505.0,567.0" fill="none" stroke="#0a0a0a" stroke-width="1.25"/>
<polyline points="505.0,565.5 524.0,565.5" fill="none" stroke="#000" stroke-width="7" stroke-linecap="butt" stroke-linejoin="miter"/>
<polyline points="519.2,562.8 551.8,595.2" fill="none" stroke="#000" stroke-width="7.5" stroke-linecap="butt" stroke-linejoin="miter"/>
<polyline points="536.0,529.0 553.0,512.0" fill="none" stroke="#000" stroke-width="5" stroke-linecap="butt" stroke-linejoin="miter"/>
<polyline points="536.0,527.0 563.0,554.0" fill="none" stroke="#000" stroke-width="6.5" stroke-linecap="butt" stroke-linejoin="miter"/>
<polyline points="552.0,513.0 577.5,538.5" fill="none" stroke="#0a0a0a" stroke-width="1.49"/>
<rect x="577.5" y="539.0" width="9" height="9" rx="1.3" fill="#000" transform="rotate(45 582.0 543.5)"/>
<polyline points="581.0,538.0 539.0,580.0" fill="none" stroke="#000" stroke-width="6" stroke-linecap="butt" stroke-linejoin="miter"/>
<polyline points="580.0,542.0 589.2,551.2 550.2,590.2" fill="none" stroke="#0a0a0a" stroke-width="1.49"/>
<polyline points="547.0,525.0 567.0,545.0" fill="none" stroke="#000" stroke-width="1.55" stroke-dasharray="4,2.6"/>
<polyline points="550.0,580.0 580.0,550.0" fill="none" stroke="#000" stroke-width="1.55" stroke-dasharray="4,2.6"/>
<text x="0.0" y="0.0" font-size="5" stroke-width="0.3" textLength="22.0" lengthAdjust="spacingAndGlyphs" transform="translate(551,520) rotate(45)">SHELVES</text>
<text x="0.0" y="0.0" font-size="5.5" stroke-width="0.3" textLength="18.0" lengthAdjust="spacingAndGlyphs" transform="translate(556,578) rotate(-45)">LINEN</text>
<circle cx="403" cy="424" r="4.4" fill="#fff" stroke="#000" stroke-width="2.6"/><circle cx="403" cy="424" r="0.9" fill="#000"/>
<circle cx="462" cy="424" r="4.4" fill="#fff" stroke="#000" stroke-width="2.6"/><circle cx="462" cy="424" r="0.9" fill="#000"/>
<circle cx="367.5" cy="459.5" r="4.4" fill="#fff" stroke="#000" stroke-width="2.6"/><circle cx="367.5" cy="459.5" r="0.9" fill="#000"/>
<circle cx="367.5" cy="533" r="4.4" fill="#fff" stroke="#000" stroke-width="2.6"/><circle cx="367.5" cy="533" r="0.9" fill="#000"/>
<polyline points="409.0,420.5 456.0,420.5" fill="none" stroke="#0a0a0a" stroke-width="1.55" stroke-dasharray="4,2.6"/>
<polyline points="409.0,427.5 456.0,427.5" fill="none" stroke="#0a0a0a" stroke-width="1.55" stroke-dasharray="4,2.6"/>
<polyline points="401.5,430.5 373.5,458.5" fill="none" stroke="#0a0a0a" stroke-width="1.55" stroke-dasharray="4,2.6"/>
<polyline points="396.5,425.5 368.5,453.5" fill="none" stroke="#0a0a0a" stroke-width="1.55" stroke-dasharray="4,2.6"/>
<polyline points="372.0,465.0 372.0,527.0" fill="none" stroke="#0a0a0a" stroke-width="1.55" stroke-dasharray="4,2.6"/>
<polyline points="364.0,465.0 364.0,527.0" fill="none" stroke="#0a0a0a" stroke-width="1.55" stroke-dasharray="4,2.6"/>
<polyline points="467.0,424.0 475.0,424.0" fill="none" stroke="#0a0a0a" stroke-width="1.55" stroke-dasharray="4,2.6"/>
<polyline points="404.0,445.5 444.0,445.5 459.0,460.0 459.0,523.0 444.0,538.0 404.0,538.0 389.0,523.0 389.0,460.0 404.0,445.5" fill="none" stroke="#0a0a0a" stroke-width="1.55" stroke-dasharray="4,2.6"/>
<polyline points="368.5,545.0 368.5,603.0" fill="none" stroke="#000" stroke-width="9" stroke-linecap="butt" stroke-linejoin="miter"/>
<polyline points="373.0,556.0 397.0,556.0" fill="none" stroke="#000" stroke-width="6.5" stroke-linecap="butt" stroke-linejoin="miter"/>
<polyline points="393.5,553.0 393.5,574.0" fill="none" stroke="#000" stroke-width="8" stroke-linecap="butt" stroke-linejoin="miter"/>
<polyline points="390.0,570.5 401.0,570.5" fill="none" stroke="#000" stroke-width="7" stroke-linecap="butt" stroke-linejoin="miter"/>
<polyline points="401.0,568.8 447.5,568.8" fill="none" stroke="#0a0a0a" stroke-width="1.49"/>
<polyline points="401.0,572.2 447.5,572.2" fill="none" stroke="#0a0a0a" stroke-width="1.49"/>
<rect x="412.0" y="567.5" width="6" height="6" rx="1.3" fill="#000" transform="rotate(0 415.0 570.5)"/>
<rect x="431.0" y="567.5" width="6" height="6" rx="1.3" fill="#000" transform="rotate(0 434.0 570.5)"/>
<polyline points="447.5,570.5 459.0,570.5" fill="none" stroke="#000" stroke-width="7" stroke-linecap="butt" stroke-linejoin="miter"/>
<polyline points="455.5,574.0 455.5,553.0" fill="none" stroke="#000" stroke-width="8" stroke-linecap="butt" stroke-linejoin="miter"/>
<polyline points="452.0,556.0 478.0,556.0" fill="none" stroke="#000" stroke-width="6.5" stroke-linecap="butt" stroke-linejoin="miter"/>
<rect x="374.0" y="486.0" width="98.0" height="15.0" fill="#fff" stroke="none" stroke-width="1"/>
<text x="399.0" y="482.5" font-size="16" stroke-width="1.05" textLength="47.0" lengthAdjust="spacingAndGlyphs">DINING</text>
<text x="376.0" y="499.5" font-size="16" stroke-width="1.05" textLength="94.0" lengthAdjust="spacingAndGlyphs" word-spacing="3">11'-11" x 16'-2"</text>
<path d="M330,430 Q340,442 364,440 L364,455" fill="none" stroke="#000" stroke-width="1.3" />
<polyline points="270.5,432.0 270.5,545.0" fill="none" stroke="#000" stroke-width="6.5" stroke-linecap="butt" stroke-linejoin="miter"/>
<polyline points="268.5,587.0 268.5,616.0" fill="none" stroke="#000" stroke-width="7" stroke-linecap="butt" stroke-linejoin="miter"/>
<path d="M287,424 Q262,480 285,536" fill="none" stroke="#000" stroke-width="1.3" />
<path d="M319,438 Q290,478 326,519" fill="none" stroke="#000" stroke-width="1.3" />
<polyline points="287.0,424.0 319.0,438.0" fill="none" stroke="#0a0a0a" stroke-width="1.25"/>
<polyline points="284.4,430.2 316.0,442.4" fill="none" stroke="#0a0a0a" stroke-width="1.25"/>
<polyline points="282.0,436.4 313.4,446.9" fill="none" stroke="#0a0a0a" stroke-width="1.25"/>
<polyline points="280.0,442.7 311.1,451.4" fill="none" stroke="#0a0a0a" stroke-width="1.25"/>
<polyline points="278.3,448.9 309.3,455.8" fill="none" stroke="#0a0a0a" stroke-width="1.25"/>
<polyline points="276.8,455.1 307.9,460.3" fill="none" stroke="#0a0a0a" stroke-width="1.25"/>
<polyline points="275.7,461.3 306.9,464.8" fill="none" stroke="#0a0a0a" stroke-width="1.25"/>
<polyline points="274.8,467.6 306.3,469.3" fill="none" stroke="#0a0a0a" stroke-width="1.25"/>
<polyline points="274.3,473.8 306.1,473.8" fill="none" stroke="#0a0a0a" stroke-width="1.25"/>
<polyline points="274.0,480.0 306.2,478.2" fill="none" stroke="#0a0a0a" stroke-width="1.25"/>
<polyline points="274.0,486.2 306.8,482.8" fill="none" stroke="#0a0a0a" stroke-width="1.25"/>
<polyline points="274.4,492.4 307.8,487.3" fill="none" stroke="#0a0a0a" stroke-width="1.25"/>
<polyline points="275.0,498.7 309.2,491.8" fill="none" stroke="#0a0a0a" stroke-width="1.25"/>
<polyline points="275.9,504.9 311.0,496.3" fill="none" stroke="#0a0a0a" stroke-width="1.25"/>
<polyline points="277.1,511.1 313.2,500.8" fill="none" stroke="#0a0a0a" stroke-width="1.25"/>
<polyline points="278.7,517.3 315.8,505.4" fill="none" stroke="#0a0a0a" stroke-width="1.25"/>
<polyline points="280.5,523.6 318.8,509.9" fill="none" stroke="#0a0a0a" stroke-width="1.25"/>
<polyline points="282.6,529.8 322.2,514.4" fill="none" stroke="#0a0a0a" stroke-width="1.25"/>
<polyline points="285.0,536.0 326.0,519.0" fill="none" stroke="#0a0a0a" stroke-width="1.25"/>
<path d="M285,536 Q283,548 300,545 Q322,540 326,519" fill="none" stroke="#000" stroke-width="1.2" />
<path d="M283,533 Q278,552 302,548 Q326,542 329,519" fill="none" stroke="#333" stroke-width="0.8" />
<path d="M300,448 Q283,490 312,545" fill="none" stroke="#000" stroke-width="0.9" stroke-dasharray="4,2"/>
<path d="M274,438 Q268,485 286,526" fill="none" stroke="#000" stroke-width="6" />
<polyline points="288.0,524.0 268.0,534.0" fill="none" stroke="#000" stroke-width="6" stroke-linecap="butt" stroke-linejoin="miter"/>
<path d="M325,428 Q314,438 309,453" fill="none" stroke="#000" stroke-width="6" />
<polyline points="281.0,427.0 291.0,425.0" fill="none" stroke="#000" stroke-width="6" stroke-linecap="butt" stroke-linejoin="miter"/>
<polyline points="292.0,418.0 305.0,432.0" fill="none" stroke="#555" stroke-width="0.90"/>
<polyline points="297.0,413.0 310.0,427.0" fill="none" stroke="#555" stroke-width="0.90"/>
<polyline points="302.0,408.0 315.0,422.0" fill="none" stroke="#555" stroke-width="0.90"/>
<polyline points="307.0,403.0 320.0,417.0" fill="none" stroke="#555" stroke-width="0.90"/>
<polyline points="312.0,398.0 325.0,412.0" fill="none" stroke="#555" stroke-width="0.90"/>
<polyline points="317.0,393.0 330.0,407.0" fill="none" stroke="#555" stroke-width="0.90"/>
<polyline points="290.0,420.0 315.0,395.0 323.0,403.0" fill="none" stroke="#555" stroke-width="0.90"/>
<text x="297.0" y="433.0" font-size="6.5" stroke-width="0.3" textLength="12.0" lengthAdjust="spacingAndGlyphs">DN</text>
<text x="311.0" y="547.5" font-size="6.5" stroke-width="0.3" textLength="12.0" lengthAdjust="spacingAndGlyphs">UP</text>
<text x="295.0" y="565.5" font-size="16" stroke-width="1.05" textLength="44.5" lengthAdjust="spacingAndGlyphs">FOYER</text>
<polyline points="147.5,613.0 189.5,613.0" fill="none" stroke="#000" stroke-width="7" stroke-linecap="butt" stroke-linejoin="miter"/>
<polyline points="189.5,611.5 246.0,611.5" fill="none" stroke="#0a0a0a" stroke-width="1.25"/>
<polyline points="189.5,614.5 246.0,614.5" fill="none" stroke="#0a0a0a" stroke-width="1.25"/>
<rect x="204.5" y="610.0" width="6" height="6" rx="1.3" fill="#000" transform="rotate(0 207.5 613.0)"/>
<rect x="225.0" y="610.0" width="6" height="6" rx="1.3" fill="#000" transform="rotate(0 228.0 613.0)"/>
<polyline points="246.0,613.0 272.0,613.0" fill="none" stroke="#000" stroke-width="7" stroke-linecap="butt" stroke-linejoin="miter"/>
<polyline points="268.5,470.0 268.5,440.0" fill="none" stroke="#000" stroke-width="1" stroke-linecap="butt" stroke-linejoin="miter"/>
<polyline points="266.0,545.0 254.0,556.0 262.0,565.0 254.0,574.0 266.0,587.0" fill="none" stroke="#0a0a0a" stroke-width="1.49"/>
<polyline points="157.5,474.0 157.5,514.0" fill="none" stroke="#0a0a0a" stroke-width="1.55" stroke-dasharray="4,2.6"/>
<polyline points="157.5,568.0 157.5,610.0" fill="none" stroke="#0a0a0a" stroke-width="1.55" stroke-dasharray="4,2.6"/>
<polyline points="166.0,474.0 166.0,514.0" fill="none" stroke="#0a0a0a" stroke-width="1.25"/>
<polyline points="166.0,568.0 166.0,610.0" fill="none" stroke="#0a0a0a" stroke-width="1.25"/>
<polyline points="170.0,474.0 170.0,610.0" fill="none" stroke="#0a0a0a" stroke-width="1.55" stroke-dasharray="4,2.6"/>
<polyline points="151.0,517.0 170.0,517.0" fill="none" stroke="#000" stroke-width="5.5" stroke-linecap="butt" stroke-linejoin="miter"/>
<polyline points="151.0,564.0 170.0,564.0" fill="none" stroke="#000" stroke-width="5.5" stroke-linecap="butt" stroke-linejoin="miter"/>
<rect x="166.0" y="515.0" width="5.0" height="11.0" fill="#000" stroke="none" stroke-width="1"/>
<rect x="166.0" y="555.0" width="5.0" height="12.0" fill="#000" stroke="none" stroke-width="1"/>
<polyline points="171.0,516.0 180.0,516.0 180.0,566.0 171.0,566.0" fill="none" stroke="#0a0a0a" stroke-width="1.25"/>
<polyline points="165.0,521.0 155.0,526.0 155.0,556.0 165.0,561.0" fill="none" stroke="#0a0a0a" stroke-width="1.38"/>
<polyline points="166.0,524.0 158.0,528.0 158.0,554.0 166.0,558.0" fill="none" stroke="#0a0a0a" stroke-width="1.25"/>
<polyline points="151.0,541.0 171.0,541.0" fill="none" stroke="#0a0a0a" stroke-width="1.25"/>
<polyline points="161.0,535.0 161.0,547.0" fill="none" stroke="#0a0a0a" stroke-width="1.25"/>
<text x="193.5" y="525.5" font-size="16" stroke-width="1.05" textLength="59.5" lengthAdjust="spacingAndGlyphs">LIBRARY</text>
<text x="180.0" y="545.0" font-size="16" stroke-width="1.05" textLength="84.0" lengthAdjust="spacingAndGlyphs" word-spacing="3">16'-2" x 11'-7"</text>
<polyline points="272.0,599.5 295.0,599.5" fill="none" stroke="#000" stroke-width="7" stroke-linecap="butt" stroke-linejoin="miter"/>
<polyline points="345.0,599.5 373.0,599.5" fill="none" stroke="#000" stroke-width="7" stroke-linecap="butt" stroke-linejoin="miter"/>
<polyline points="295.0,597.0 314.0,580.0 319.0,592.0 324.0,580.0 345.0,597.0" fill="none" stroke="#0a0a0a" stroke-width="1.49"/>
<polyline points="295.0,603.0 345.0,603.0" fill="none" stroke="#0a0a0a" stroke-width="1.25"/>
<polyline points="141.0,616.0 141.0,675.0 265.0,675.0 265.0,692.0 376.0,692.0 376.0,603.0" fill="none" stroke="#0a0a0a" stroke-width="1.72"/>
<polyline points="145.5,618.0 145.5,660.0" fill="none" stroke="#000" stroke-width="1.55" stroke-dasharray="4,2.6"/>
<polyline points="153.5,618.0 153.5,660.0" fill="none" stroke="#000" stroke-width="1.55" stroke-dasharray="4,2.6"/>
<polyline points="172.0,662.0 266.0,662.0" fill="none" stroke="#000" stroke-width="1.55" stroke-dasharray="4,2.6"/>
<polyline points="172.0,672.0 264.0,672.0" fill="none" stroke="#000" stroke-width="1.55" stroke-dasharray="4,2.6"/>
<polyline points="294.0,681.0 347.0,681.0" fill="none" stroke="#000" stroke-width="1.55" stroke-dasharray="4,2.6"/>
<polyline points="294.0,689.0 347.0,689.0" fill="none" stroke="#000" stroke-width="1.55" stroke-dasharray="4,2.6"/>
<polyline points="364.0,606.0 364.0,676.0" fill="none" stroke="#000" stroke-width="1.55" stroke-dasharray="4,2.6"/>
<polyline points="372.0,606.0 372.0,676.0" fill="none" stroke="#000" stroke-width="1.55" stroke-dasharray="4,2.6"/>
<polyline points="143.0,660.0 171.0,660.0 171.0,675.0" fill="none" stroke="#0a0a0a" stroke-width="1.25"/>
<polyline points="262.0,660.0 281.0,660.0 281.0,676.0" fill="none" stroke="#0a0a0a" stroke-width="1.25"/>
<polyline points="265.0,676.0 293.0,676.0 293.0,692.0" fill="none" stroke="#0a0a0a" stroke-width="1.25"/>
<polyline points="347.0,692.0 347.0,676.0 376.0,676.0" fill="none" stroke="#0a0a0a" stroke-width="1.25"/>
<circle cx="150" cy="667" r="3.6" fill="#fff" stroke="#000" stroke-width="2.6"/><circle cx="150" cy="667" r="0.9" fill="#000"/>
<circle cx="163" cy="667" r="3.6" fill="#fff" stroke="#000" stroke-width="2.6"/><circle cx="163" cy="667" r="0.9" fill="#000"/>
<circle cx="272" cy="667" r="3.6" fill="#fff" stroke="#000" stroke-width="2.6"/><circle cx="272" cy="667" r="0.9" fill="#000"/>
<circle cx="272" cy="684.5" r="3.6" fill="#fff" stroke="#000" stroke-width="2.6"/><circle cx="272" cy="684.5" r="0.9" fill="#000"/>
<circle cx="285.5" cy="684.5" r="3.6" fill="#fff" stroke="#000" stroke-width="2.6"/><circle cx="285.5" cy="684.5" r="0.9" fill="#000"/>
<circle cx="354" cy="684.5" r="3.6" fill="#fff" stroke="#000" stroke-width="2.6"/><circle cx="354" cy="684.5" r="0.9" fill="#000"/>
<circle cx="368" cy="684.5" r="3.6" fill="#fff" stroke="#000" stroke-width="2.6"/><circle cx="368" cy="684.5" r="0.9" fill="#000"/>
<text x="299.0" y="649.0" font-size="16" stroke-width="1.05" textLength="48.5" lengthAdjust="spacingAndGlyphs">PORCH</text>
<polyline points="195.0,677.5 240.0,677.5" fill="none" stroke="#888" stroke-width="0.80"/>
<polyline points="766.0,134.0 786.0,154.0" fill="none" stroke="#000" stroke-width="8" stroke-linecap="butt" stroke-linejoin="miter"/>
<polyline points="776.2,142.2 762.2,156.2" fill="none" stroke="#000" stroke-width="8" stroke-linecap="butt" stroke-linejoin="miter"/>
<polyline points="763.3,157.3 695.3,225.3" fill="none" stroke="#0a0a0a" stroke-width="1.38"/>
<polyline points="761.2,155.2 693.2,223.2" fill="none" stroke="#0a0a0a" stroke-width="1.38"/>
<rect x="741.2" y="169.8" width="7.5" height="7.5" rx="1.3" fill="#000" transform="rotate(45 745.0 173.5)"/>
<rect x="706.2" y="204.2" width="7.5" height="7.5" rx="1.3" fill="#000" transform="rotate(45 710.0 208.0)"/>
<polyline points="745.0,177.0 745.0,199.0 737.0,192.0 735.0,206.0 716.0,206.0" fill="none" stroke="#0a0a0a" stroke-width="1.49"/>
<polyline points="786.6,153.4 863.1,229.9" fill="none" stroke="#0a0a0a" stroke-width="1.38"/>
<polyline points="784.4,155.6 860.9,232.1" fill="none" stroke="#0a0a0a" stroke-width="1.38"/>
<rect x="800.8" y="169.8" width="7.5" height="7.5" rx="1.3" fill="#000" transform="rotate(45 804.5 173.5)"/>
<rect x="835.2" y="204.2" width="7.5" height="7.5" rx="1.3" fill="#000" transform="rotate(45 839.0 208.0)"/>
<polyline points="859.0,227.0 870.0,238.0" fill="none" stroke="#000" stroke-width="9" stroke-linecap="butt" stroke-linejoin="miter"/>
<polyline points="865.0,235.0 862.2,243.8" fill="none" stroke="#000" stroke-width="7" stroke-linecap="butt" stroke-linejoin="miter"/>
<polyline points="860.2,241.8 898.0,279.5" fill="none" stroke="#000" stroke-width="8" stroke-linecap="butt" stroke-linejoin="miter"/>
<polyline points="899.1,278.4 914.1,293.4" fill="none" stroke="#0a0a0a" stroke-width="1.38"/>
<polyline points="896.9,280.6 911.9,295.6" fill="none" stroke="#0a0a0a" stroke-width="1.38"/>
<polyline points="913.0,294.5 939.5,321.0" fill="none" stroke="#000" stroke-width="8" stroke-linecap="butt" stroke-linejoin="miter"/>
<polyline points="939.5,317.0 885.2,371.2" fill="none" stroke="#000" stroke-width="8" stroke-linecap="butt" stroke-linejoin="miter"/>
<polyline points="886.3,372.3 871.3,387.3" fill="none" stroke="#0a0a0a" stroke-width="1.38"/>
<polyline points="884.2,370.2 869.2,385.2" fill="none" stroke="#0a0a0a" stroke-width="1.38"/>
<polyline points="870.2,386.2 825.2,431.2" fill="none" stroke="#000" stroke-width="8" stroke-linecap="butt" stroke-linejoin="miter"/>
<polyline points="826.3,432.3 799.3,459.3" fill="none" stroke="#0a0a0a" stroke-width="1.38"/>
<polyline points="822.7,428.7 795.7,455.7" fill="none" stroke="#0a0a0a" stroke-width="1.38"/>
<polyline points="876.2,257.8 771.2,362.8" fill="none" stroke="#000" stroke-width="6.5" stroke-linecap="butt" stroke-linejoin="miter"/>
<polyline points="754.2,345.8 797.8,389.2" fill="none" stroke="#000" stroke-width="8" stroke-linecap="butt" stroke-linejoin="miter"/>
<polyline points="861.2,245.2 832.8,273.8" fill="none" stroke="#000" stroke-width="3" stroke-linecap="butt" stroke-linejoin="miter"/>
<polyline points="793.2,313.2 757.5,349.0" fill="none" stroke="#000" stroke-width="3" stroke-linecap="butt" stroke-linejoin="miter"/>
<polyline points="865.0,255.0 841.0,279.0" fill="none" stroke="#000" stroke-width="1.55" stroke-dasharray="4,2.5"/>
<polyline points="799.0,321.0 767.0,353.0" fill="none" stroke="#000" stroke-width="1.55" stroke-dasharray="4,2.5"/>
<polyline points="825.5,270.5 844.5,289.5" fill="none" stroke="#000" stroke-width="6.5" stroke-linecap="butt" stroke-linejoin="miter"/>
<polyline points="790.0,306.0 809.0,325.0" fill="none" stroke="#000" stroke-width="6.5" stroke-linecap="butt" stroke-linejoin="miter"/>
<polyline points="828.5,270.5 821.0,278.0" fill="none" stroke="#000" stroke-width="6" stroke-linecap="butt" stroke-linejoin="miter"/>
<polyline points="790.0,309.0 797.5,301.5" fill="none" stroke="#000" stroke-width="6" stroke-linecap="butt" stroke-linejoin="miter"/>
<polyline points="823.0,283.0 829.5,297.5 817.0,310.0 802.5,303.5" fill="none" stroke="#0a0a0a" stroke-width="1.49"/>
<polyline points="822.0,286.0 826.0,297.0 816.5,306.5 805.5,302.5" fill="none" stroke="#0a0a0a" stroke-width="1.25"/>
<polyline points="816.0,296.0 825.0,305.0" fill="none" stroke="#0a0a0a" stroke-width="1.25"/>
<polyline points="872.0,266.0 879.0,273.0 794.0,358.0 787.0,351.0" fill="none" stroke="#0a0a0a" stroke-width="1.38"/>
<polyline points="886.0,274.0 800.0,360.0" fill="none" stroke="#0a0a0a" stroke-width="1.38"/>
<polyline points="856.5,281.5 865.5,290.5" fill="none" stroke="#0a0a0a" stroke-width="1.26"/>
<polyline points="843.0,295.0 852.0,304.0" fill="none" stroke="#0a0a0a" stroke-width="1.26"/>
<polyline points="829.0,309.0 838.0,318.0" fill="none" stroke="#0a0a0a" stroke-width="1.26"/>
<polyline points="815.0,323.0 824.0,332.0" fill="none" stroke="#0a0a0a" stroke-width="1.26"/>
<polyline points="801.0,337.0 810.0,346.0" fill="none" stroke="#0a0a0a" stroke-width="1.26"/>
<polyline points="872.0,272.0 848.0,296.0" fill="none" stroke="#000" stroke-width="1.6" stroke-dasharray="5,2.5"/>
<polyline points="844.5,299.5 807.0,337.0" fill="none" stroke="#333" stroke-width="1.55" stroke-dasharray="4,3"/>
<polyline points="794.0,358.0 801.0,365.0 843.0,323.0" fill="none" stroke="#666" stroke-width="0.90"/>
<polyline points="759.5,355.5 747.0,368.0 778.0,399.0 790.5,386.5" fill="none" stroke="#0a0a0a" stroke-width="1.49"/>
<polyline points="751.0,368.0 778.0,395.0 786.5,386.5" fill="none" stroke="#0a0a0a" stroke-width="1.25"/>
<polyline points="764.5,385.5 777.0,373.0" fill="none" stroke="#0a0a0a" stroke-width="1.25"/>
<polyline points="771.0,392.0 783.5,379.5" fill="none" stroke="#0a0a0a" stroke-width="1.25"/>
<text x="0.0" y="0.0" font-size="5" stroke-width="0.3" textLength="14.0" lengthAdjust="spacingAndGlyphs" transform="translate(752,366) rotate(45)">W D</text>
<text x="0.0" y="0.0" font-size="16.5" stroke-width="1.05" textLength="120.0" lengthAdjust="spacingAndGlyphs" word-spacing="6" transform="translate(822,384) rotate(-45.5)">LAUNDRY ROOM</text>
<polyline points="927.0,313.0 919.0,321.0 915.0,317.0 919.0,313.0" fill="none" stroke="#0a0a0a" stroke-width="1.38"/>
<polyline points="930.0,316.0 919.0,327.0 909.0,317.0 913.0,313.0" fill="none" stroke="#0a0a0a" stroke-width="1.25"/>
<polyline points="919.0,321.0 893.0,347.0 889.0,343.0 851.0,381.0 860.0,390.0" fill="none" stroke="#0a0a0a" stroke-width="1.38"/>
<polyline points="919.0,327.0 897.0,349.0" fill="none" stroke="#0a0a0a" stroke-width="1.25"/>
<polyline points="891.0,351.0 859.0,383.0" fill="none" stroke="#0a0a0a" stroke-width="1.55" stroke-dasharray="4,2.6"/>
<polyline points="893.0,347.0 893.0,353.0" fill="none" stroke="#0a0a0a" stroke-width="1.25"/>
<text x="0.0" y="0.0" font-size="5" stroke-width="0.3" textLength="26.0" lengthAdjust="spacingAndGlyphs" transform="translate(858,378) rotate(-45)">Fold Clothes</text>
<polyline points="797.0,390.0 806.0,384.0 811.0,385.0 811.0,408.0" fill="none" stroke="#0a0a0a" stroke-width="1.49"/>
<polyline points="839.0,387.0 852.0,400.0" fill="none" stroke="#000" stroke-width="6" stroke-linecap="butt" stroke-linejoin="miter"/>
<polyline points="838.0,388.0 822.0,391.0 826.0,398.0 818.0,398.0 820.0,410.0" fill="none" stroke="#0a0a0a" stroke-width="1.49"/>
<polyline points="811.0,407.0 818.0,413.0" fill="none" stroke="#000" stroke-width="7" stroke-linecap="butt" stroke-linejoin="miter"/>
<polyline points="814.0,412.0 827.0,425.0" fill="none" stroke="#000" stroke-width="5" stroke-linecap="butt" stroke-linejoin="miter"/>
<polyline points="818.4,413.4 840.4,391.4" fill="none" stroke="#0a0a0a" stroke-width="1.38"/>
<polyline points="820.6,415.6 842.6,393.6" fill="none" stroke="#0a0a0a" stroke-width="1.38"/>
<polyline points="826.0,419.0 847.0,398.0" fill="none" stroke="#000" stroke-width="1.55" stroke-dasharray="4,2.6"/>
<polyline points="819.4,419.4 792.4,446.4" fill="none" stroke="#0a0a0a" stroke-width="1.26"/>
<polyline points="816.6,416.6 789.6,443.6" fill="none" stroke="#0a0a0a" stroke-width="1.26"/>
<polyline points="825.0,421.0 798.0,448.0" fill="none" stroke="#0a0a0a" stroke-width="1.55" stroke-dasharray="4,2.6"/>
<polyline points="775.5,444.5 796.5,465.5" fill="none" stroke="#000" stroke-width="7" stroke-linecap="butt" stroke-linejoin="miter"/>
<rect x="792.5" y="458.5" width="9" height="9" rx="1.3" fill="#000" transform="rotate(45 797.0 463.0)"/>
<text x="0.0" y="0.0" font-size="5" stroke-width="0.3" textLength="16.0" lengthAdjust="spacingAndGlyphs" transform="translate(794,438) rotate(-45)">BENCH</text>
<polyline points="664.0,260.0 752.0,348.0" fill="none" stroke="#111" stroke-width="1.55" stroke-dasharray="3,2.2"/>
<polyline points="693.5,285.5 803.5,175.5" fill="none" stroke="#111" stroke-width="1.55" stroke-dasharray="3,2.2"/>
<polyline points="698.5,290.5 808.5,180.5" fill="none" stroke="#111" stroke-width="1.55" stroke-dasharray="3,2.2"/>
<polyline points="726.0,318.0 836.0,208.0" fill="none" stroke="#111" stroke-width="1.55" stroke-dasharray="3,2.2"/>
<polyline points="731.0,323.0 841.0,213.0" fill="none" stroke="#111" stroke-width="1.55" stroke-dasharray="3,2.2"/>
<polyline points="733.5,188.5 820.5,275.5" fill="none" stroke="#111" stroke-width="1.55" stroke-dasharray="3,2.2"/>
<polyline points="739.0,183.0 826.0,270.0" fill="none" stroke="#111" stroke-width="1.55" stroke-dasharray="3,2.2"/>
<polyline points="702.5,219.5 789.5,306.5" fill="none" stroke="#111" stroke-width="1.55" stroke-dasharray="3,2.2"/>
<polyline points="708.0,214.0 795.0,301.0" fill="none" stroke="#111" stroke-width="1.55" stroke-dasharray="3,2.2"/>
<polyline points="692.2,226.2 665.2,253.2" fill="none" stroke="#111" stroke-width="1.55" stroke-dasharray="3,2.2"/>
<polyline points="755.0,255.0 761.0,261.0 767.0,255.0" fill="none" stroke="#0a0a0a" stroke-width="1.25"/>
<rect x="706.0" y="236.0" width="119.0" height="32.0" fill="#fff" stroke="none" stroke-width="1"/>
<text x="709.0" y="249.5" font-size="16" stroke-width="1.05" textLength="114.0" lengthAdjust="spacingAndGlyphs" word-spacing="6">KEEPING ROOM</text>
<text x="713.0" y="265.5" font-size="16" stroke-width="1.05" textLength="107.0" lengthAdjust="spacingAndGlyphs" word-spacing="3">14'-10" x 18'-1"</text>
<polyline points="743.0,416.0 626.0,534.0" fill="none" stroke="#000" stroke-width="8" stroke-linecap="butt" stroke-linejoin="miter"/>
<polyline points="732.0,401.0 760.0,428.0" fill="none" stroke="#000" stroke-width="7" stroke-linecap="butt" stroke-linejoin="miter"/>
<polyline points="704.0,455.0 727.0,478.0" fill="none" stroke="#000" stroke-width="7" stroke-linecap="butt" stroke-linejoin="miter"/>
<polyline points="739.0,495.0 776.0,531.0" fill="none" stroke="#000" stroke-width="7" stroke-linecap="butt" stroke-linejoin="miter"/>
<polyline points="776.0,529.0 955.0,708.0" fill="none" stroke="#0a0a0a" stroke-width="1.61"/>
<polyline points="795.0,466.0 757.0,503.0" fill="none" stroke="#0a0a0a" stroke-width="1.55" stroke-dasharray="4,2.6"/>
<polyline points="760.0,428.0 776.0,444.0" fill="none" stroke="#0a0a0a" stroke-width="1.55" stroke-dasharray="4,2.6"/>
<polyline points="760.0,428.0 776.0,421.0 777.0,443.0" fill="none" stroke="#0a0a0a" stroke-width="1.25"/>
<path d="M723,482 L723,504 Q733,505 739,496" fill="none" stroke="#000" stroke-width="1.2" />
<text x="725.0" y="466.5" font-size="16" stroke-width="1.05" textLength="50.0" lengthAdjust="spacingAndGlyphs">PORCH</text>
<polyline points="727.0,401.0 711.0,417.0 723.0,429.0" fill="none" stroke="#0a0a0a" stroke-width="1.38"/>
<polyline points="727.0,401.0 731.0,405.0" fill="none" stroke="#0a0a0a" stroke-width="1.38"/>
<polyline points="731.5,409.5 719.5,421.5" fill="none" stroke="#000" stroke-width="1.55" stroke-dasharray="4,2.6"/>
<polyline points="713.0,419.0 608.5,523.5" fill="none" stroke="#0a0a0a" stroke-width="2.07"/>
<polyline points="717.0,427.0 617.0,527.0" fill="none" stroke="#000" stroke-width="1.55" stroke-dasharray="4,2.5"/>
<polyline points="720.0,440.0 711.5,448.5" fill="none" stroke="#fff" stroke-width="9"/>
<polyline points="721.7,440.7 712.2,450.2" fill="none" stroke="#0a0a0a" stroke-width="1.38"/>
<polyline points="719.3,438.3 709.8,447.8" fill="none" stroke="#0a0a0a" stroke-width="1.38"/>
<polyline points="688.0,441.0 700.5,453.5" fill="none" stroke="#000" stroke-width="9" stroke-linecap="butt" stroke-linejoin="miter"/>
<polyline points="649.0,480.0 661.5,492.5" fill="none" stroke="#000" stroke-width="9" stroke-linecap="butt" stroke-linejoin="miter"/>
<path d="M687,439 Q652,436 648,478" fill="none" stroke="#111" stroke-width="1.25" stroke-dasharray="3,2"/>
<polyline points="664.0,472.0 683.0,453.0 690.5,460.5 671.5,479.5 664.0,472.0" fill="none" stroke="#0a0a0a" stroke-width="1.84"/>
<polyline points="670.5,465.5 678.0,473.0" fill="none" stroke="#0a0a0a" stroke-width="1.49"/>
<polyline points="676.5,459.5 684.0,467.0" fill="none" stroke="#0a0a0a" stroke-width="1.49"/>
<polyline points="668.5,471.5 674.5,472.5" fill="none" stroke="#0a0a0a" stroke-width="1.25"/>
<polyline points="680.5,459.5 686.5,460.5" fill="none" stroke="#0a0a0a" stroke-width="1.25"/>
<polyline points="621.0,511.0 632.5,522.5" fill="none" stroke="#0a0a0a" stroke-width="1.49"/>
<polyline points="610.5,523.5 631.0,523.0" fill="none" stroke="#0a0a0a" stroke-width="1.25"/>
<polyline points="621.0,513.0 620.5,533.5" fill="none" stroke="#0a0a0a" stroke-width="1.25"/>
<polyline points="715.0,471.0 639.5,546.5" fill="none" stroke="#0a0a0a" stroke-width="2.07"/>
<polyline points="705.0,467.0 635.0,537.0" fill="none" stroke="#000" stroke-width="1.55" stroke-dasharray="4,2.5"/>
<text x="0.0" y="0.0" font-size="5" stroke-width="0.3" textLength="28.0" lengthAdjust="spacingAndGlyphs" transform="translate(664,514) rotate(-45)">Bench seat w/</text>
<polyline points="606.0,524.0 647.0,566.0" fill="none" stroke="#000" stroke-width="8" stroke-linecap="butt" stroke-linejoin="miter"/>
<rect x="640.5" y="560.5" width="9" height="9" rx="1.3" fill="#000" transform="rotate(45 645.0 565.0)"/>
<polyline points="645.0,565.0 612.0,565.0" fill="none" stroke="#0a0a0a" stroke-width="1.25"/>
<path d="M616,566 Q616,585 628,590" fill="none" stroke="#222" stroke-width="1" />
<polyline points="645.0,566.0 627.0,586.0" fill="none" stroke="#0a0a0a" stroke-width="1.25"/>
<text x="597.0" y="552.0" font-size="13.5" stroke-width="1.05" textLength="22.5" lengthAdjust="spacingAndGlyphs">MUD</text>
<text x="593.0" y="564.0" font-size="13.5" stroke-width="1.05" textLength="30.5" lengthAdjust="spacingAndGlyphs">ROOM</text>
<polyline points="589.0,548.0 600.0,536.0" fill="none" stroke="#777" stroke-width="2" stroke-dasharray="2,2"/>
<polyline points="577.5,629.0 624.5,582.5" fill="none" stroke="#000" stroke-width="9" stroke-linecap="butt" stroke-linejoin="miter"/>
<rect x="561.5" y="615.5" width="13" height="13" rx="1.3" fill="#000" transform="rotate(45 568.0 622.0)"/>
<polyline points="626.0,584.0 646.0,565.0" fill="none" stroke="#0a0a0a" stroke-width="1.25"/>
<polyline points="552.1,593.0 564.1,606.0" fill="none" stroke="#0a0a0a" stroke-width="1.25"/>
<polyline points="549.9,595.0 561.9,608.0" fill="none" stroke="#0a0a0a" stroke-width="1.25"/>
<rect x="563.0" y="607.0" width="6" height="6" rx="1.3" fill="#000" transform="rotate(45 566.0 610.0)"/>
<polyline points="578.0,615.0 573.5,604.0 584.0,606.0 581.0,598.0 588.0,594.0 592.0,586.0 600.0,587.0 607.0,593.0" fill="none" stroke="#0a0a0a" stroke-width="1.95"/>
<polyline points="584.0,606.0 590.0,612.0" fill="none" stroke="#0a0a0a" stroke-width="1.95"/>
<polyline points="588.0,594.0 599.0,603.0" fill="none" stroke="#0a0a0a" stroke-width="1.95"/>
<text x="0.0" y="0.0" font-size="5.5" stroke-width="0.3" textLength="8.0" lengthAdjust="spacingAndGlyphs" transform="translate(577,597) rotate(-45)">UP</text>
<polyline points="566.0,623.0 603.0,660.0" fill="none" stroke="#000" stroke-width="8" stroke-linecap="butt" stroke-linejoin="miter"/>
<polyline points="604.0,658.9 652.0,705.9" fill="none" stroke="#0a0a0a" stroke-width="1.25"/>
<polyline points="602.0,661.1 650.0,708.1" fill="none" stroke="#0a0a0a" stroke-width="1.25"/>
<rect x="615.0" y="672.0" width="6" height="6" rx="1.3" fill="#000" transform="rotate(45 618.0 675.0)"/>
<rect x="633.0" y="689.5" width="6" height="6" rx="1.3" fill="#000" transform="rotate(45 636.0 692.5)"/>
<polyline points="651.0,707.0 692.0,748.0 698.0,742.0" fill="none" stroke="#000" stroke-width="8" stroke-linecap="butt" stroke-linejoin="miter"/>
<polyline points="696.0,742.0 735.0,780.0" fill="none" stroke="#000" stroke-width="8" stroke-linecap="butt" stroke-linejoin="miter"/>
<polyline points="736.1,778.9 747.1,789.9" fill="none" stroke="#0a0a0a" stroke-width="1.25"/>
<polyline points="733.9,781.1 744.9,792.1" fill="none" stroke="#0a0a0a" stroke-width="1.25"/>
<polyline points="746.0,791.0 783.0,828.0" fill="none" stroke="#000" stroke-width="8" stroke-linecap="butt" stroke-linejoin="miter"/>
<polyline points="784.1,826.9 796.1,838.9" fill="none" stroke="#0a0a0a" stroke-width="1.25"/>
<polyline points="781.9,829.1 793.9,841.1" fill="none" stroke="#0a0a0a" stroke-width="1.25"/>
<polyline points="795.0,840.0 825.0,869.0 846.0,848.0" fill="none" stroke="#000" stroke-width="8" stroke-linecap="butt" stroke-linejoin="miter"/>
<polyline points="844.9,846.9 856.9,834.9" fill="none" stroke="#0a0a0a" stroke-width="1.25"/>
<polyline points="847.1,849.1 859.1,837.1" fill="none" stroke="#0a0a0a" stroke-width="1.25"/>
<polyline points="858.0,836.0 891.0,803.0" fill="none" stroke="#000" stroke-width="8" stroke-linecap="butt" stroke-linejoin="miter"/>
<polyline points="889.9,801.9 902.9,788.9" fill="none" stroke="#0a0a0a" stroke-width="1.25"/>
<polyline points="892.1,804.1 905.1,791.1" fill="none" stroke="#0a0a0a" stroke-width="1.25"/>
<polyline points="904.0,790.0 937.0,757.0" fill="none" stroke="#000" stroke-width="8" stroke-linecap="butt" stroke-linejoin="miter"/>
<polyline points="935.9,755.9 948.9,742.9" fill="none" stroke="#0a0a0a" stroke-width="1.25"/>
<polyline points="938.1,758.1 951.1,745.1" fill="none" stroke="#0a0a0a" stroke-width="1.25"/>
<polyline points="950.0,744.0 971.0,723.0 953.0,706.0" fill="none" stroke="#000" stroke-width="8" stroke-linecap="butt" stroke-linejoin="miter"/>
<polyline points="883.0,640.0 896.0,653.0" fill="none" stroke="#000" stroke-width="7" stroke-linecap="butt" stroke-linejoin="miter"/>
<text x="716.5" y="660.0" font-size="16" stroke-width="1.05" textLength="118.0" lengthAdjust="spacingAndGlyphs" word-spacing="2">3-CAR GARAGE</text>
<text x="726.0" y="679.0" font-size="16" stroke-width="1.05" textLength="106.5" lengthAdjust="spacingAndGlyphs" word-spacing="3">39'-3" x 24'-1"</text>
</svg>
</body></html>
